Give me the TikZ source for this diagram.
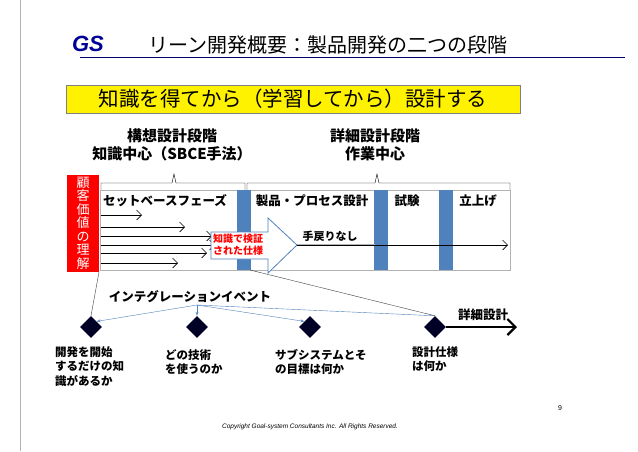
\documentclass[tikz,border=0pt]{standalone}
\usepackage{fontspec}
\setmainfont{Liberation Sans}
\newfontfamily\jp{Noto Sans CJK JP}
\newfontfamily\jpb{Noto Sans CJK JP Black}
\usetikzlibrary{shapes.geometric,arrows.meta}
\definecolor{barc}{RGB}{79,129,189}
\begin{document}
\begin{tikzpicture}[x=1pt,y=-1pt,
  hd/.style={font=\jpb\fontsize{15}{18}\selectfont,align=center},
  lb/.style={font=\jpb\fontsize{12.5}{14}\selectfont},
  q/.style={font=\jpb\fontsize{11.5}{14.5}\selectfont,align=left,anchor=north west,inner sep=0pt},
  bar/.style={fill=barc,draw=none},
  dia/.style={diamond,fill=black!85!blue,inner sep=0pt,minimum size=22pt},
  thin/.style={draw=barc,-{Stealth[length=4pt,open]},line width=0.4pt},
  arr/.style={-{Straight Barb[length=5pt]},line width=0.6pt}]
\useasboundingbox (0,0) rectangle (638,451);
\fill[white] (0,0) rectangle (638,451);
\draw[gray!60] (20,0) -- (20,451);
\draw[blue!40!black,line width=0.8pt] (80,57) -- (625,57);
\node[font=\bfseries\itshape\fontsize{22}{22}\selectfont,text=blue!60!black] (logo) at (88,44) {GS};
\node[font=\jp\fontsize{20}{22}\selectfont] (title) at (328,45) {リーン開発概要：製品開発の二つの段階};
\node[draw=gray,fill=yellow,minimum width=454pt,minimum height=28pt,font=\jp\fontsize{20.5}{22}\selectfont] (y) at (293,99) {知識を得てから（学習してから）設計する};
\node[hd] (h1) at (172,145) {構想設計段階\\知識中心（SBCE手法）};
\node[hd] (h2) at (375,145) {詳細設計段階\\作業中心};
\draw (101,190) -- (101,183) -- (172,183) -- (174,174) -- (176,183) -- (245,183) -- (245,190);
\draw (247,190) -- (247,183) -- (375,183) -- (377,174) -- (379,183) -- (510,183) -- (510,190);
\node[draw=gray!60,minimum width=410pt,minimum height=80pt,inner sep=0pt] (box) at (305,230) {};
\node[fill=red,minimum width=32pt,minimum height=97pt,inner sep=0pt,text=white,font=\jp\fontsize{13}{13.5}\selectfont,align=center] (cv) at (83,223) {顧\\客\\価\\値\\の\\理\\解};
\fill[bar] (237,190) rectangle (251,270);
\fill[bar] (374,190) rectangle (388,270);
\fill[bar] (439,190) rectangle (453,270);
\node[lb] (l1) at (165,201) {セットベースフェーズ};
\node[lb] (l2) at (312,201) {製品・プロセス設計};
\node[lb] (l3) at (407,201) {試験};
\node[lb] (l4) at (478,201) {立上げ};
\foreach \yy/\xx in {215/142,227/185,236/212,245/215,253/207,263/178}
  \draw[arr] (101,\yy) -- (\xx,\yy);
\draw[draw=barc,fill=white,line width=0.8pt] (211,232) -- (268,232) -- (268,218) -- (297,245) -- (268,273) -- (268,259) -- (211,259) -- cycle;
\coordinate (tip) at (297,245);
\node[text=red,font=\jpb\fontsize{10}{12}\selectfont,align=center] (bat) at (238,245) {知識で検証\\された仕様};
\draw[gray!60,line width=2pt] (297,245) -- (375,245);
\coordinate (ae) at (508,245);
\draw[arr] (tip) -- (ae);
\node[font=\jpb\fontsize{11}{12}\selectfont] (nr) at (330,236) {手戻りなし};
\node[dia] (d1) at (91,327) {};
\node[dia] (d2) at (197,327) {};
\node[dia] (d3) at (310,327) {};
\node[dia] (d4) at (435,327) {};
\draw[gray!50!black,line width=0.4pt] (99,272) -- (d1.north);
\draw[gray!50!black,line width=0.4pt] (250,270) -- (d4.north);
\node[lb] (ie) at (190,297) {インテグレーションイベント};
\coordinate (ib) at (197,305);
\draw[thin] (ib) -- (d1.north east);
\draw[thin] (ib) -- (d2.north);
\draw[thin] (ib) -- (d3.north west);
\draw[draw=barc,line width=0.4pt] (ib) -- (d4.north);
\coordinate (de) at (517,327);
\draw[-{Straight Barb[length=8pt]},line width=2.2pt] (d4) -- (de);
\node[lb] (sd) at (483,315) {詳細設計};
\node[q] (t1) at (55,346) {開発を開始\\するだけの知\\識があるか};
\node[q] (t2) at (165,349) {どの技術\\を使うのか};
\node[q] (t3) at (275,349) {サブシステムとそ\\の目標は何か};
\node[q] (t4) at (412,346) {設計仕様\\は何か};
\node[font=\fontsize{7}{8}\selectfont] (pg) at (560,408) {9};
\node[font=\itshape\fontsize{6.5}{8}\selectfont] (cp) at (310,427) {Copyright Goal-system Consultants Inc. All Rights Reserved.};
\end{tikzpicture}
\end{document}
